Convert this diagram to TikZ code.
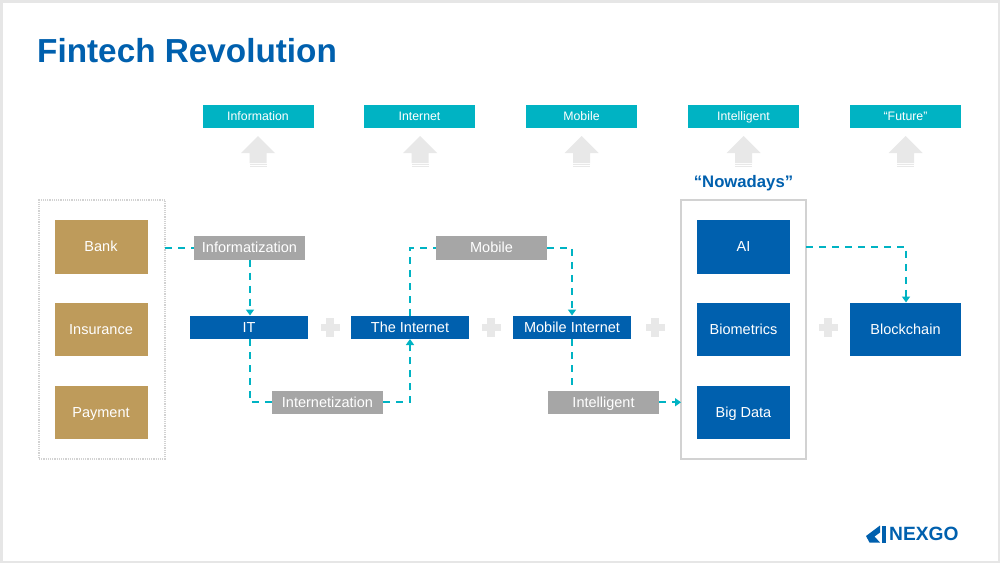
\documentclass[tikz,border=0pt]{standalone}
\usepackage{fontspec}
\setmainfont{Liberation Sans}
\usetikzlibrary{arrows.meta,calc}
\definecolor{navy}{HTML}{0060AE}
\definecolor{teal1}{HTML}{00B3C3}
\definecolor{tan1}{HTML}{BE9B5B}
\definecolor{gray1}{HTML}{A6A6A6}
\definecolor{ghost}{HTML}{E8E8E8}
\definecolor{frame1}{HTML}{E6E6E6}
\tikzset{
  x=1pt,y=-1pt,
  boxbase/.style={anchor=north west,inner sep=0pt,outer sep=0pt,text=white,font=\fontsize{14.5}{16}\selectfont,align=center,text height=10.4pt,text depth=0pt},
  topbox/.style={boxbase,fill=teal1,minimum width=111pt,minimum height=23pt,font=\fontsize{12.3}{15}\selectfont,text height=8.8pt},
  tanbox/.style={boxbase,fill=tan1,minimum width=93pt,minimum height=53.5pt},
  bluebig/.style={boxbase,fill=navy,minimum width=93pt,minimum height=53.5pt},
  bluewide/.style={boxbase,fill=navy,minimum width=118pt,minimum height=23.5pt},
  graybox/.style={boxbase,fill=gray1,minimum width=111pt,minimum height=23.5pt},
  flow/.style={draw=teal1,line width=1.8pt,dash pattern=on 7pt off 6pt},
  flowa/.style={flow,-{Triangle[length=6pt,width=8pt]}},
  ghostshape/.style={fill=ghost,draw=none},
}
\newcommand{\uparrowmark}[1]{%
  \fill[ghostshape] (#1,136) -- (#1+17,153) -- (#1+8.5,153) -- (#1+8.5,163) -- (#1-8.5,163) -- (#1-8.5,153) -- (#1-17,153) -- cycle;
  \fill[ghostshape] (#1-8.5,164) rectangle (#1+8.5,165.2);
  \fill[ghostshape] (#1-8.5,166.2) rectangle (#1+8.5,167.2);
}
\newcommand{\plusmark}[2]{%
  \fill[ghostshape] (#1-3.8,#2-9.5) rectangle (#1+3.8,#2+9.5);
  \fill[ghostshape] (#1-9.5,#2-3.8) rectangle (#1+9.5,#2+3.8);
}
\begin{document}
\begin{tikzpicture}
\useasboundingbox (0,0) rectangle (1000,563);
\fill[frame1] (0,0) rectangle (1000,563);
\fill[white] (2.5,2.5) rectangle (997.5,560.5);
\node[anchor=west,inner sep=0pt,text=navy,font=\fontsize{33.3}{36}\bfseries\selectfont] (title) at (37,51) {Fintech Revolution};

\node[topbox] (t1) at (202.5,104.5) {Information};
\node[topbox] (t2) at (364,104.5) {Internet};
\node[topbox] (t3) at (526,104.5) {Mobile};
\node[topbox] (t4) at (688,104.5) {Intelligent};
\node[topbox] (t5) at (850,104.5) {“Future”};
\uparrowmark{258}\uparrowmark{420}\uparrowmark{581.5}\uparrowmark{743.5}\uparrowmark{905.5}

\node[anchor=center,inner sep=0pt,text=navy,font=\fontsize{16.7}{18}\bfseries\selectfont] (now) at (743.5,183) {“Nowadays”};

\node[anchor=north west,draw=gray!35,densely dotted,line width=1.2pt,minimum width=126pt,minimum height=259pt,inner sep=0pt,outer sep=0pt] (leftframe) at (39,200) {};
\node[anchor=north west,draw=gray!35,line width=1.5pt,minimum width=125pt,minimum height=259pt,inner sep=0pt,outer sep=0pt] (nowframe) at (681,200) {};

\node[tanbox] (bank) at (54.5,220) {Bank};
\node[tanbox] (ins) at (54.5,302.5) {Insurance};
\node[tanbox] (pay) at (54.5,385.5) {Payment};

\node[bluebig] (ai) at (697,220) {AI};
\node[bluebig] (bio) at (697,302.5) {Biometrics};
\node[bluebig] (big) at (697,385.5) {Big Data};
\node[bluebig,minimum width=111pt] (block) at (850,302.5) {Blockchain};

\node[bluewide] (it) at (190,315.5) {IT};
\node[bluewide] (inet) at (351,315.5) {The Internet};
\node[bluewide] (mnet) at (513,315.5) {Mobile Internet};

\node[graybox] (ginfo) at (194,236) {Informatization};
\node[graybox] (gmob) at (436,236) {Mobile};
\node[graybox] (gint) at (272,390.5) {Internetization};
\node[graybox] (gintel) at (548,390.5) {Intelligent};

\plusmark{330}{327.5}\plusmark{491}{327.5}\plusmark{655}{327.5}\plusmark{828}{327.5}

\coordinate (c1) at (leftframe.north east |- ginfo.west);
\coordinate (c2) at (nowframe.north east |- ai.east);
\coordinate (c3) at (nowframe.west |- gintel.east);
\coordinate (c4) at ($(block.north)+(0.5,0)$);
\coordinate (c5) at ($(it.north)+(1,0)$);
\coordinate (c6) at ($(it.south)+(1,0)$);
\draw[flow] (c1) -- (ginfo.west);
\draw[flowa] (ginfo.south -| c5) -- (c5);
\draw[flow] (c6) |- (gint.west);
\draw[flowa] (gint.east) -| (inet.south);
\draw[flow] (inet.north) |- (gmob.west);
\draw[flowa] (gmob.east) -| (mnet.north);
\draw[flow] (mnet.south) -- (mnet.south |- gintel.north);
\draw[flowa] (gintel.east) -- (c3);
\draw[flowa] (c2) -| (c4);

% logo
\fill[navy] (866,536) -- (880,525.5) -- (880,532.5) -- (874.5,536.5) -- (880,542.5) -- (869.5,542.5) -- cycle;
\fill[navy] (881.5,525.5) -- (885.5,525.5) -- (885.5,542.5) -- (881.5,542.5) -- cycle;
\node[anchor=west,inner sep=0pt,text=navy,font=\fontsize{19.2}{22}\bfseries\selectfont] (logo) at (889,534) {NEXGO};
\end{tikzpicture}
\end{document}
